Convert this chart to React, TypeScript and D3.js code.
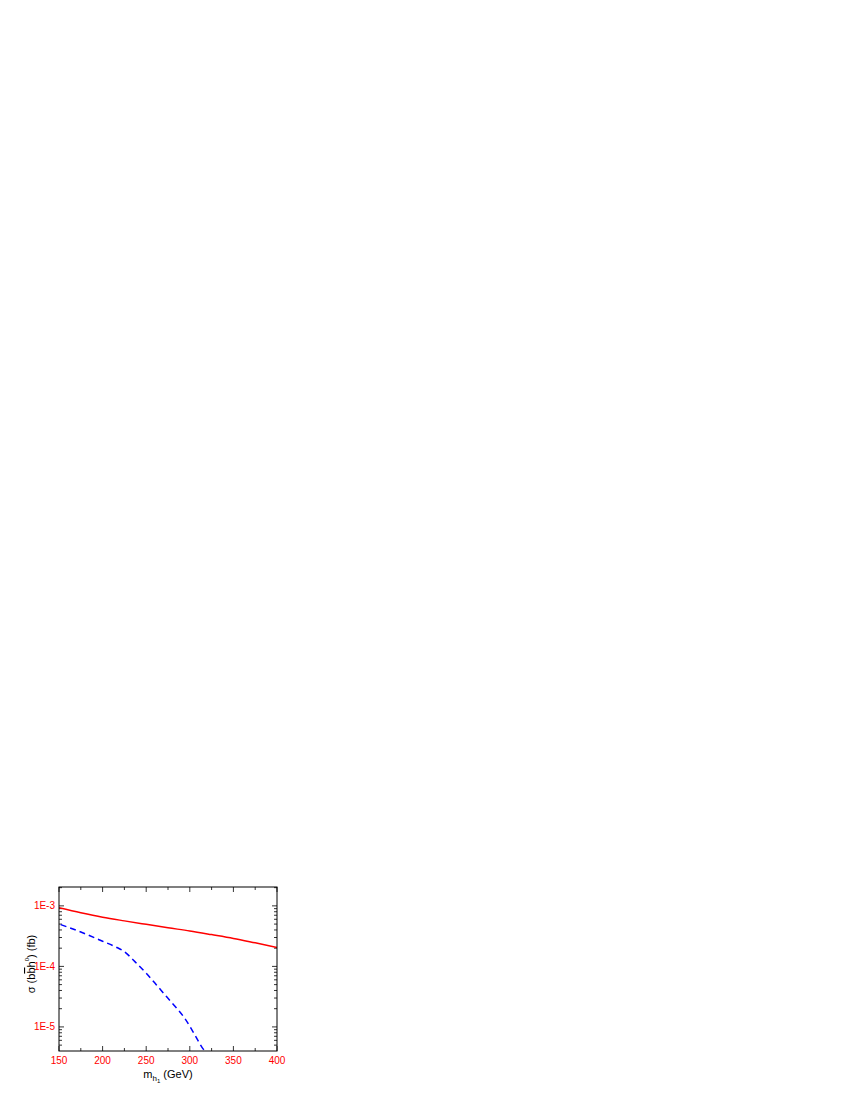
import React from 'react';
import * as d3 from 'd3';

// x values (GeV) and cross sections (fb)
const redMass = [150, 175, 200, 225, 250, 275, 300, 325, 350, 375, 400];
const redSigma = [9.3e-4, 7.7e-4, 6.5e-4, 5.65e-4, 4.95e-4, 4.35e-4, 3.85e-4, 3.35e-4, 2.9e-4, 2.45e-4, 2.06e-4];

const blueMass = [152, 175, 200, 215, 225, 237, 250, 262, 273, 283, 294, 306, 314, 318];
const blueSigma = [4.9e-4, 3.7e-4, 2.6e-4, 2.1e-4, 1.75e-4, 1.2e-4, 7.7e-5, 4.9e-5, 3.2e-5, 2.2e-5, 1.4e-5, 7.3e-6, 4.6e-6, 3.9e-6];

const xMajor = [150, 200, 250, 300, 350, 400];
const xMinor = [175, 225, 275, 325, 375];
const yMajor = [1e-3, 1e-4, 1e-5];
const yLabels = ['1E-3', '1E-4', '1E-5'];

export default function App() {
  const m = { left: 59, right: 277, top: 887, bottom: 1051 };
  const x = d3.scaleLinear().domain([150, 400]).range([m.left, m.right]);
  const y = d3.scaleLog().domain([4e-6, 2.05e-3]).range([m.bottom, m.top]);

  const yMinor: number[] = [];
  for (let e = -6; e <= -3; e++) {
    for (let k = 2; k <= 9; k++) {
      const v = k * Math.pow(10, e);
      if (v > 4e-6 && v < 2.05e-3) yMinor.push(v);
    }
  }

  const line = d3.line<[number, number]>().x(d => x(d[0])).y(d => y(d[1])).curve(d3.curveMonotoneX);
  const red = redMass.map((v, i) => [v, redSigma[i]] as [number, number]);
  const blue = blueMass.map((v, i) => [v, blueSigma[i]] as [number, number]);

  const tc = '#000';
  const font = '"Liberation Sans", Arial, sans-serif';

  return (
    <svg width={850} height={1100} style={{ position: 'absolute', left: 0, top: 0 }} fontFamily={font}>
      <defs>
        <clipPath id="plot">
          <rect x={m.left} y={m.top} width={m.right - m.left} height={m.bottom - m.top} />
        </clipPath>
      </defs>

      {/* x ticks, bottom and top, inward */}
      {xMajor.map(v => (
        <g key={'xM' + v}>
          <line x1={x(v)} x2={x(v)} y1={m.bottom} y2={m.bottom - 5} stroke={tc} strokeWidth={0.8} />
          <line x1={x(v)} x2={x(v)} y1={m.top} y2={m.top + 5} stroke={tc} strokeWidth={0.8} />
          <text x={x(v)} y={m.bottom + 13} fill="#ff0000" fontSize={10} textAnchor="middle">{v}</text>
        </g>
      ))}
      {xMinor.map(v => (
        <g key={'xm' + v}>
          <line x1={x(v)} x2={x(v)} y1={m.bottom} y2={m.bottom - 3} stroke={tc} strokeWidth={0.8} />
          <line x1={x(v)} x2={x(v)} y1={m.top} y2={m.top + 3} stroke={tc} strokeWidth={0.8} />
        </g>
      ))}

      {/* y ticks, left and right, inward */}
      {yMajor.map((v, i) => (
        <g key={'yM' + v}>
          <line x1={m.left} x2={m.left + 5} y1={y(v)} y2={y(v)} stroke={tc} strokeWidth={0.8} />
          <line x1={m.right} x2={m.right - 5} y1={y(v)} y2={y(v)} stroke={tc} strokeWidth={0.8} />
          <text x={m.left - 4} y={y(v) + 3.5} fill="#ff0000" fontSize={10} textAnchor="end">{yLabels[i]}</text>
        </g>
      ))}
      {yMinor.map(v => (
        <g key={'ym' + v}>
          <line x1={m.left} x2={m.left + 3} y1={y(v)} y2={y(v)} stroke={tc} strokeWidth={0.8} />
          <line x1={m.right} x2={m.right - 3} y1={y(v)} y2={y(v)} stroke={tc} strokeWidth={0.8} />
        </g>
      ))}

      <g clipPath="url(#plot)">
        <path d={line(red) || ''} fill="none" stroke="#ff0000" strokeWidth={1.5} />
        <path d={line(blue) || ''} fill="none" stroke="#0000ff" strokeWidth={1.5} strokeDasharray="6,4" />
      </g>

      <rect x={m.left} y={m.top} width={m.right - m.left} height={m.bottom - m.top} fill="none" stroke={tc} strokeWidth={1} />

      {/* axis titles */}
      <text x={168} y={1078} fontSize={11} textAnchor="middle" fill="#000">
        m<tspan fontSize={8} dy={3}>h</tspan><tspan fontSize={6} dy={2}>1</tspan><tspan dy={-5}> (GeV)</tspan>
      </text>
      <text transform={`translate(35,964) rotate(-90)`} fontSize={11} textAnchor="middle" fill="#000">
        σ (b<tspan textDecoration="overline">b</tspan>h<tspan fontSize={6} dy={-6}>0</tspan><tspan dy={6}>) (fb)</tspan>
      </text>
    </svg>
  );
}
